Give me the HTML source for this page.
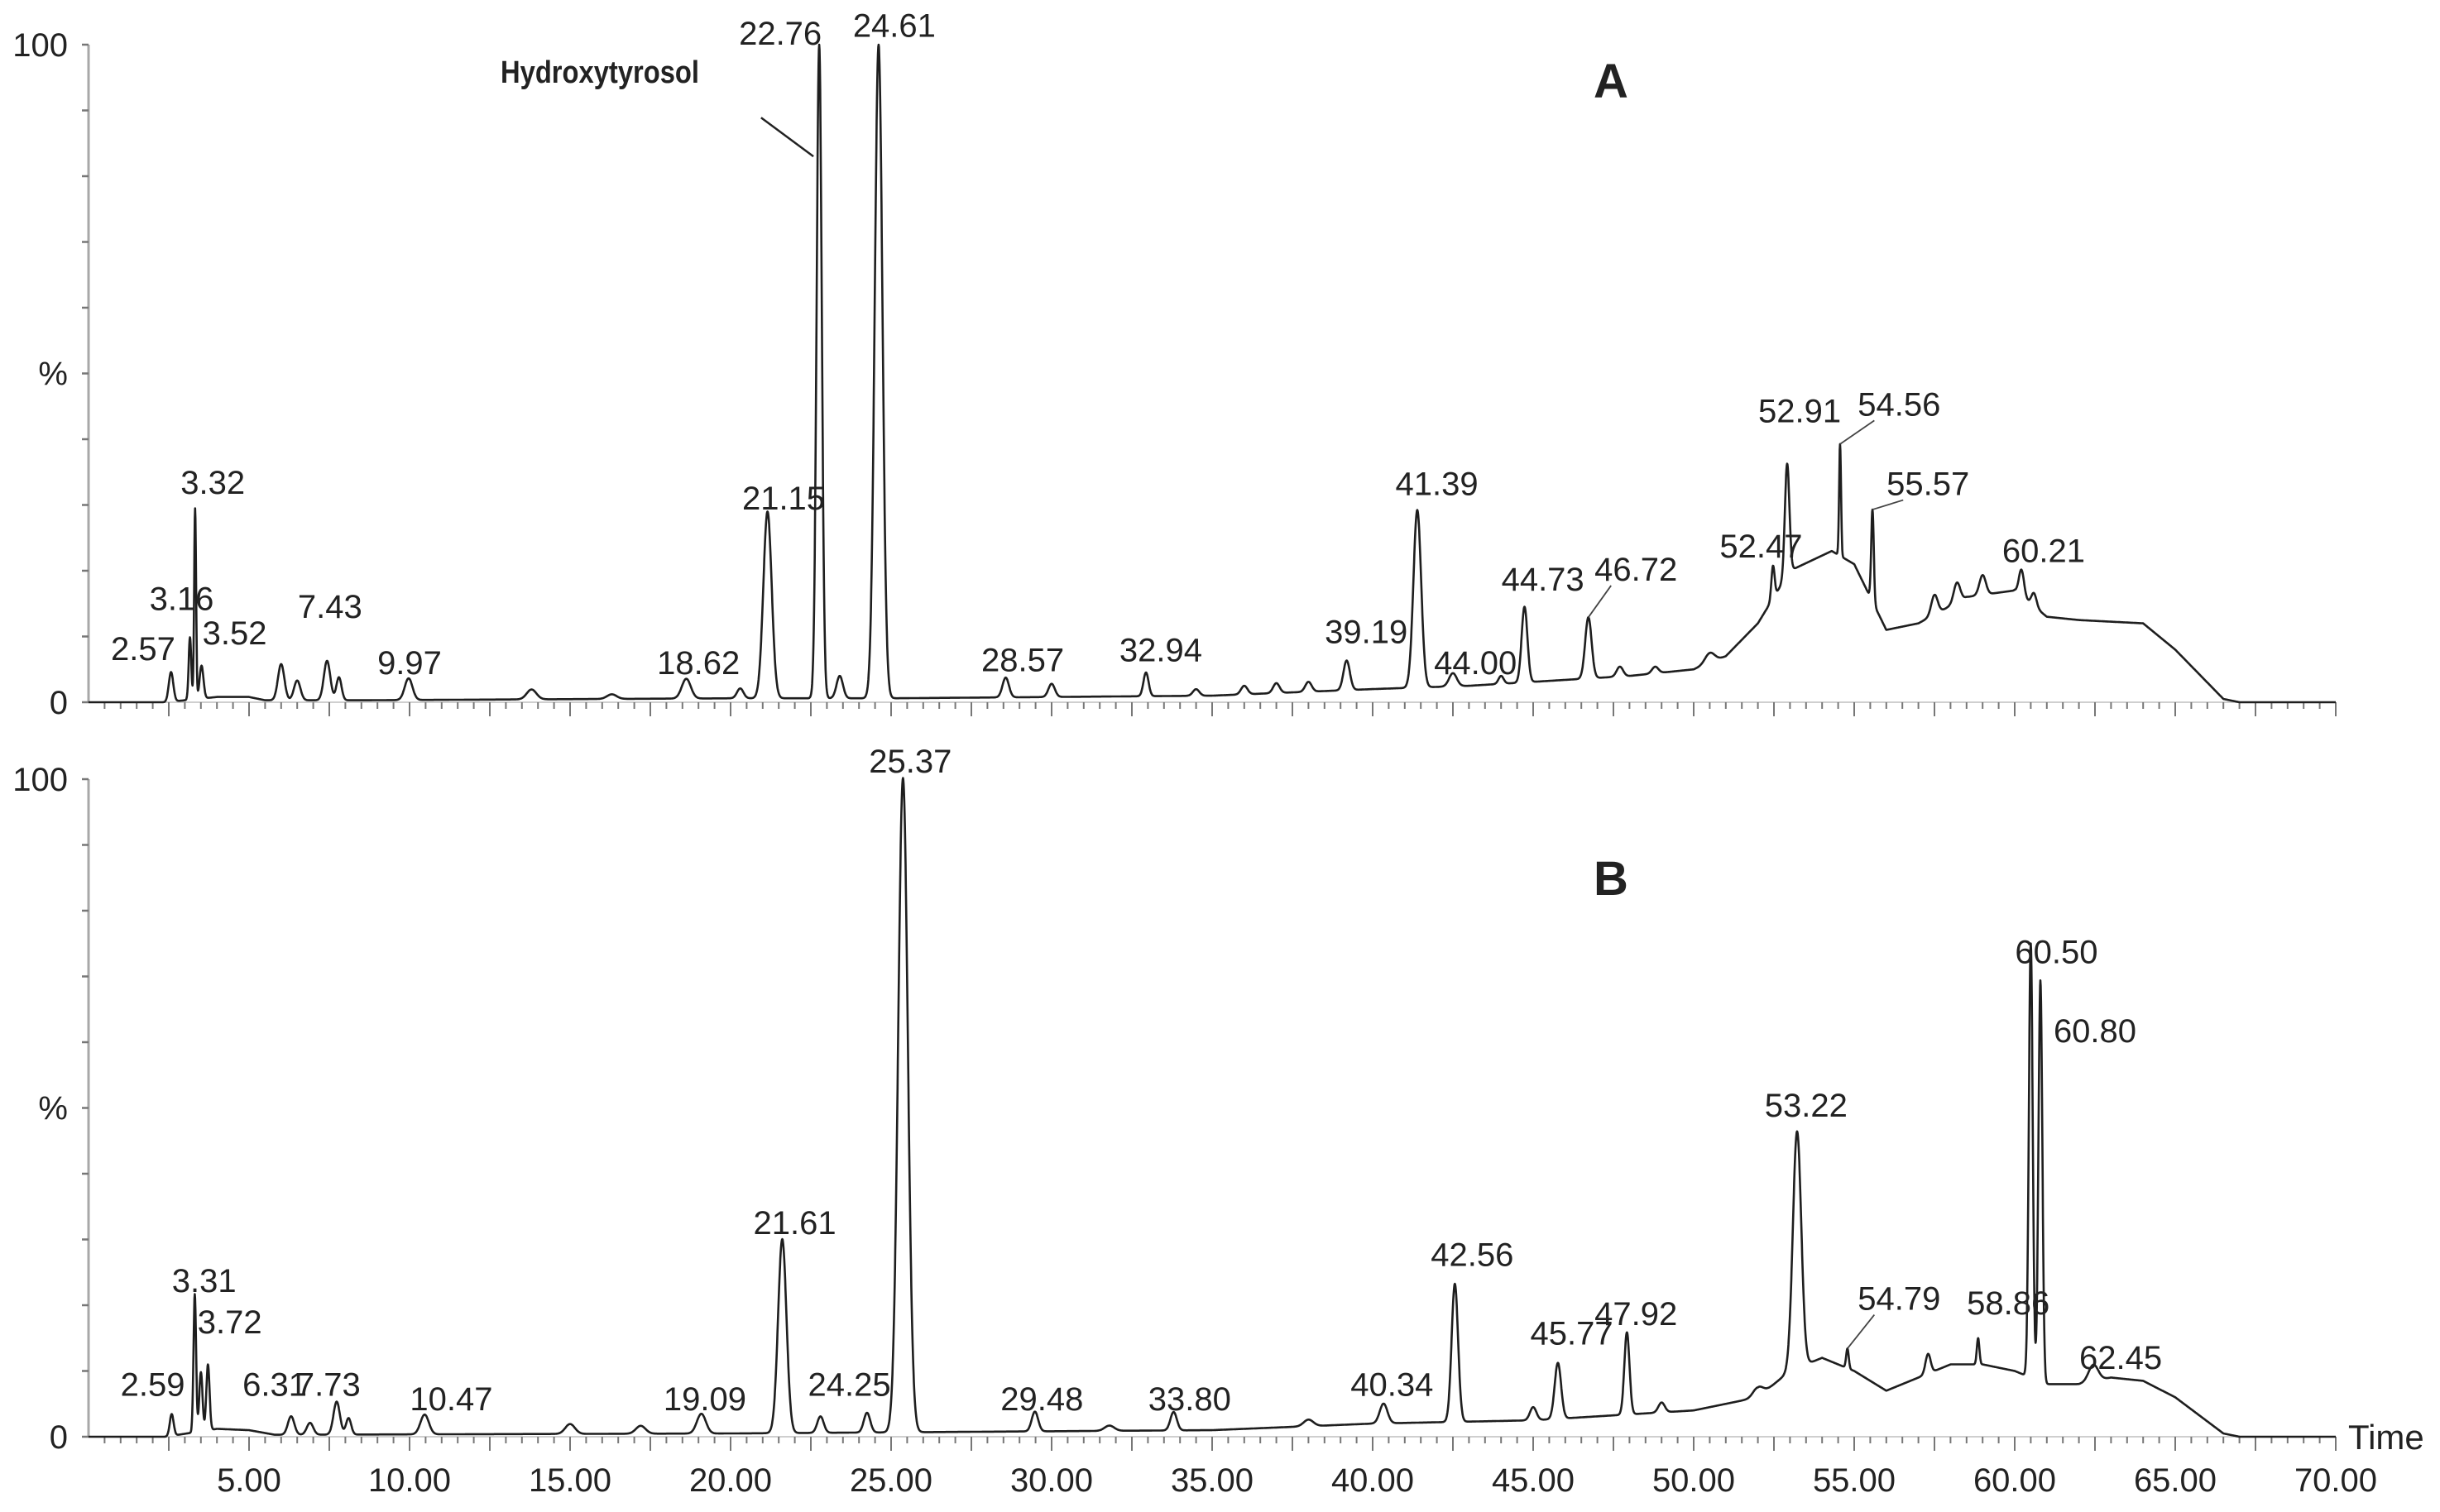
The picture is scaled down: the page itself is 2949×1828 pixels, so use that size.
<!DOCTYPE html>
<html><head><meta charset="utf-8"><style>
html,body{margin:0;padding:0;background:#fff;}
svg{display:block;}
text{font-family:"Liberation Sans",Arial,sans-serif;fill:#222;}
</style></head><body>
<svg id="chart" width="2949" height="1828" viewBox="0 0 2949 1828" xmlns="http://www.w3.org/2000/svg">
<rect x="0" y="0" width="2949" height="1828" fill="#fff"/>
<g id="panelA"></g>
<g id="panelB"></g>
<g id="xaxis"></g>
</svg>
<script>
const xTickLabels = ["5.00","10.00","15.00","20.00","25.00","30.00","35.00","40.00","45.00","50.00","55.00","60.00","65.00","70.00"];
const xTickValues = [5,10,15,20,25,30,35,40,45,50,55,60,65,70];

const baseA_t = [0,2.4,4,5,5.5,8.5,20,25,35,40,43,48,50,51,52,53,54.3,55,56,57,58.5,60,61,62,64,65,66.5,67,70];
const baseA_v = [0,0,0.8,0.8,0.3,0.3,0.6,0.6,1,2,2.5,4,5,7,12,20,23,21,11,12,16,17,13,12.5,12,8,0.5,0,0];
const peaksA_t = [2.57,3.16,3.32,3.52,6.0,6.5,7.43,7.8,9.97,13.8,16.3,18.62,20.3,21.15,22.76,23.4,24.61,28.57,30.0,32.94,34.5,36.0,37.0,38.0,39.19,41.39,42.5,44.0,44.73,46.72,47.7,48.8,50.5,52.47,52.91,54.56,55.57,57.5,58.2,59.0,60.21,60.6];
const peaksA_h = [4.5,9.5,29,5,5.5,3,6,3.5,3.3,1.5,0.7,3,1.5,28.4,99.4,3.4,99.4,3,2,3.6,1,1.3,1.5,1.5,4.5,27,2,1.2,11.5,9.3,1.5,1,1.5,5,17,17,14,3,3,3,4,2];
const peaksA_w = [0.07,0.04,0.03,0.06,0.1,0.1,0.1,0.08,0.12,0.15,0.15,0.14,0.1,0.13,0.08,0.1,0.12,0.1,0.1,0.08,0.1,0.1,0.1,0.1,0.1,0.12,0.12,0.08,0.09,0.1,0.1,0.1,0.15,0.05,0.07,0.03,0.04,0.1,0.1,0.1,0.08,0.08];

const baseB_t = [0,2.4,4,5,5.8,20,35,40,45,50,52,53,54,55,56,57,58,59,60,61,62,63,64,65,66.5,67,70];
const baseB_v = [0,0,1.2,1,0.3,0.5,1,2,2.5,4,6,10,12,10,7,9,11,11,10,8,8,9,8.5,6,0.5,0,0];
const peaksB_t = [2.59,3.31,3.5,3.72,6.31,6.9,7.73,8.1,10.47,15.0,17.2,19.09,21.61,22.8,24.25,25.37,29.48,31.8,33.8,38.0,40.34,42.56,45.0,45.77,47.92,49.0,52.0,53.22,54.79,57.3,58.86,60.5,60.8,62.45];
const peaksB_h = [3.3,21,9,10,2.8,1.8,5,2.5,3,1.5,1.2,3,29.5,2.5,3,99.5,3,0.8,2.8,1,3,21,2,8.5,12.5,1.5,1.5,36,3,3,4,66,61,2.5];
const peaksB_w = [0.06,0.04,0.05,0.05,0.1,0.1,0.1,0.08,0.13,0.15,0.15,0.14,0.13,0.1,0.1,0.15,0.1,0.15,0.1,0.15,0.12,0.1,0.1,0.1,0.08,0.1,0.15,0.13,0.04,0.08,0.04,0.06,0.06,0.15];

const labelsA_text = ["2.57","3.16","3.32","3.52","7.43","9.97","18.62","21.15","22.76","24.61","28.57","32.94","39.19","41.39","44.00","44.73","46.72","52.47","52.91","54.56","55.57","60.21"];
const labelsA_pos = [1.7,2.9,3.87,4.55,7.52,10.0,19.0,21.65,21.55,25.1,29.1,33.4,39.8,42.0,43.2,45.3,48.2,52.1,53.3,56.4,57.3,60.9];
const labelsA_val = [6.4,14,31.7,8.8,12.8,4.3,4.3,29.3,100,101.2,4.7,6.2,9,31.5,4.3,17,18.5,22,42.6,43.6,31.5,21.3];
const labelsA_peak = [2.57,3.16,3.32,3.52,7.43,9.97,18.62,21.15,22.76,24.61,28.57,32.94,39.19,41.39,44.0,44.73,46.72,52.47,52.91,54.56,55.57,60.21];

const labelsB_text = ["2.59","3.31","3.72","6.31","7.73","10.47","19.09","21.61","24.25","25.37","29.48","33.80","40.34","42.56","45.77","47.92","53.22","54.79","58.86","60.50","60.80","62.45"];
const labelsB_pos = [2.0,3.6,4.4,5.8,7.47,11.3,19.2,22.0,23.7,25.6,29.7,34.3,40.6,43.1,46.2,48.2,53.5,56.4,59.8,61.3,62.5,63.3];
const labelsB_val = [6.2,22,15.7,6.2,6.2,4,4,30.8,6.2,101,4,4,6.2,26,14,17,48.7,19.3,18.6,72,60,10.3];
const labelsB_peak = [2.59,3.31,3.72,6.31,7.73,10.47,19.09,21.61,24.25,25.37,29.48,33.8,40.34,42.56,45.77,47.92,53.22,54.79,58.86,60.5,60.8,62.45];

const X0 = 107, PX_PER_MIN = 38.8;
const xScale = t => X0 + t * PX_PER_MIN;
const panels = [
  {id:"panelA", zero:849, top:54, name:"a"},
  {id:"panelB", zero:1737, top:942, name:"b"}
];
const yScaleFor = p => v => p.zero - v * (p.zero - p.top) / 100;

const NS = "http://www.w3.org/2000/svg";
function mk(tag, attrs, parent){
  const e = document.createElementNS(NS, tag);
  for (const k in attrs) e.setAttribute(k, attrs[k]);
  parent.appendChild(e);
  return e;
}
function interp(ts, vs, t){
  if (t <= ts[0]) return vs[0];
  for (let i = 1; i < ts.length; i++){
    if (t <= ts[i]) { const f = (t - ts[i-1])/(ts[i]-ts[i-1]); return vs[i-1] + f*(vs[i]-vs[i-1]); }
  }
  return vs[vs.length-1];
}
function signal(t, bt, bv, pt, ph, pw){
  let v = interp(bt, bv, t);
  for (let i = 0; i < pt.length; i++){
    const d = (t - pt[i]) / pw[i];
    if (Math.abs(d) < 6) v += ph[i] * Math.exp(-0.5*d*d);
  }
  return v;
}

function drawPanel(p, bt, bv, pt, ph, pw, lt, lp, lv, lk){
  const g = document.getElementById(p.id);
  const y = yScaleFor(p);
  let e = mk("line", {x1:X0, y1:p.top, x2:X0, y2:p.zero, stroke:"#a8a8a8", "stroke-width":3}, g);
  
  
  for (let k = 0; k <= 10; k++){
    const yy = y(k*10);
    const tk = mk("line", {x1:X0-8, y1:yy, x2:X0, y2:yy, stroke:"#777", "stroke-width":2.5}, g);
    
    
  }
  const labs = [["100",100],["%",50],["0",0]];
  labs.forEach(([s,v]) => {
    const t = mk("text", {x:82, y:y(v)+14, "font-size":40, "text-anchor":"end"}, g);
    t.textContent = s;
    
    
  });
  e = mk("line", {x1:X0, y1:p.zero, x2:xScale(70), y2:p.zero, stroke:"#cfcfcf", "stroke-width":2}, g);
  
  
  for (let k = 1; k <= 140; k++){
    const tt = k*0.5, major = (k % 5 === 0);
    const tk = mk("line", {x1:xScale(tt), y1:p.zero, x2:xScale(tt), y2:p.zero + (major?17:8), stroke:"#777", "stroke-width":2}, g);
    
    
  }
  let d = "";
  for (let t = 0; t <= 70.0001; t += 0.01){
    const v = signal(t, bt, bv, pt, ph, pw);
    d += (d ? "L" : "M") + xScale(t).toFixed(1) + "," + y(v).toFixed(1);
  }
  e = mk("path", {d:d, fill:"none", stroke:"#1e1e1e", "stroke-width":2.6, "stroke-linejoin":"round"}, g);
  
  
  for (let i = 0; i < lt.length; i++){
    const lx = xScale(lp[i]), ly = y(lv[i]);
    const t = mk("text", {x:lx, y:ly, "font-size":40, "text-anchor":"middle"}, g);
    t.textContent = lt[i];
    
    
    const apexV = signal(lk[i], bt, bv, pt, ph, pw);
    const px = xScale(lk[i]), py = y(apexV);
    if (Math.abs(px - lx) > 40 && py - ly > 12){
      const sx = lx + (px > lx ? 30 : -30);
      const ln = mk("line", {x1:sx, y1:ly+6, x2:px, y2:py, stroke:"#444", "stroke-width":1.8}, g);
      
      
    }
  }
}

drawPanel(panels[0], baseA_t, baseA_v, peaksA_t, peaksA_h, peaksA_w, labelsA_text, labelsA_pos, labelsA_val, labelsA_peak);
drawPanel(panels[1], baseB_t, baseB_v, peaksB_t, peaksB_h, peaksB_w, labelsB_text, labelsB_pos, labelsB_val, labelsB_peak);

const gA = document.getElementById("panelA");
const yA = yScaleFor(panels[0]);
let el = mk("text", {x:1947, y:118, "font-size":58, "font-weight":"bold", "text-anchor":"middle"}, gA);
el.textContent = "A";


const gB = document.getElementById("panelB");
el = mk("text", {x:1947, y:1082, "font-size":58, "font-weight":"bold", "text-anchor":"middle"}, gB);
el.textContent = "B";


el = mk("text", {x:605, y:100, "font-size":38, "font-weight":"bold", "text-anchor":"start", "textLength":240, "lengthAdjust":"spacingAndGlyphs"}, gA);
el.textContent = "Hydroxytyrosol";


el = mk("line", {x1:xScale(20.95), y1:yA(88.9), x2:xScale(22.58), y2:yA(83.0), stroke:"#222", "stroke-width":2.5}, gA);



const gx = document.getElementById("xaxis");
for (let i = 0; i < xTickValues.length; i++){
  const t = mk("text", {x:xScale(xTickValues[i]), y:1803, "font-size":40, "text-anchor":"middle"}, gx);
  t.textContent = xTickLabels[i];
  
  
}
el = mk("text", {x:2838, y:1752, "font-size":42}, gx);
el.textContent = "Time";


</script>
</body></html>
